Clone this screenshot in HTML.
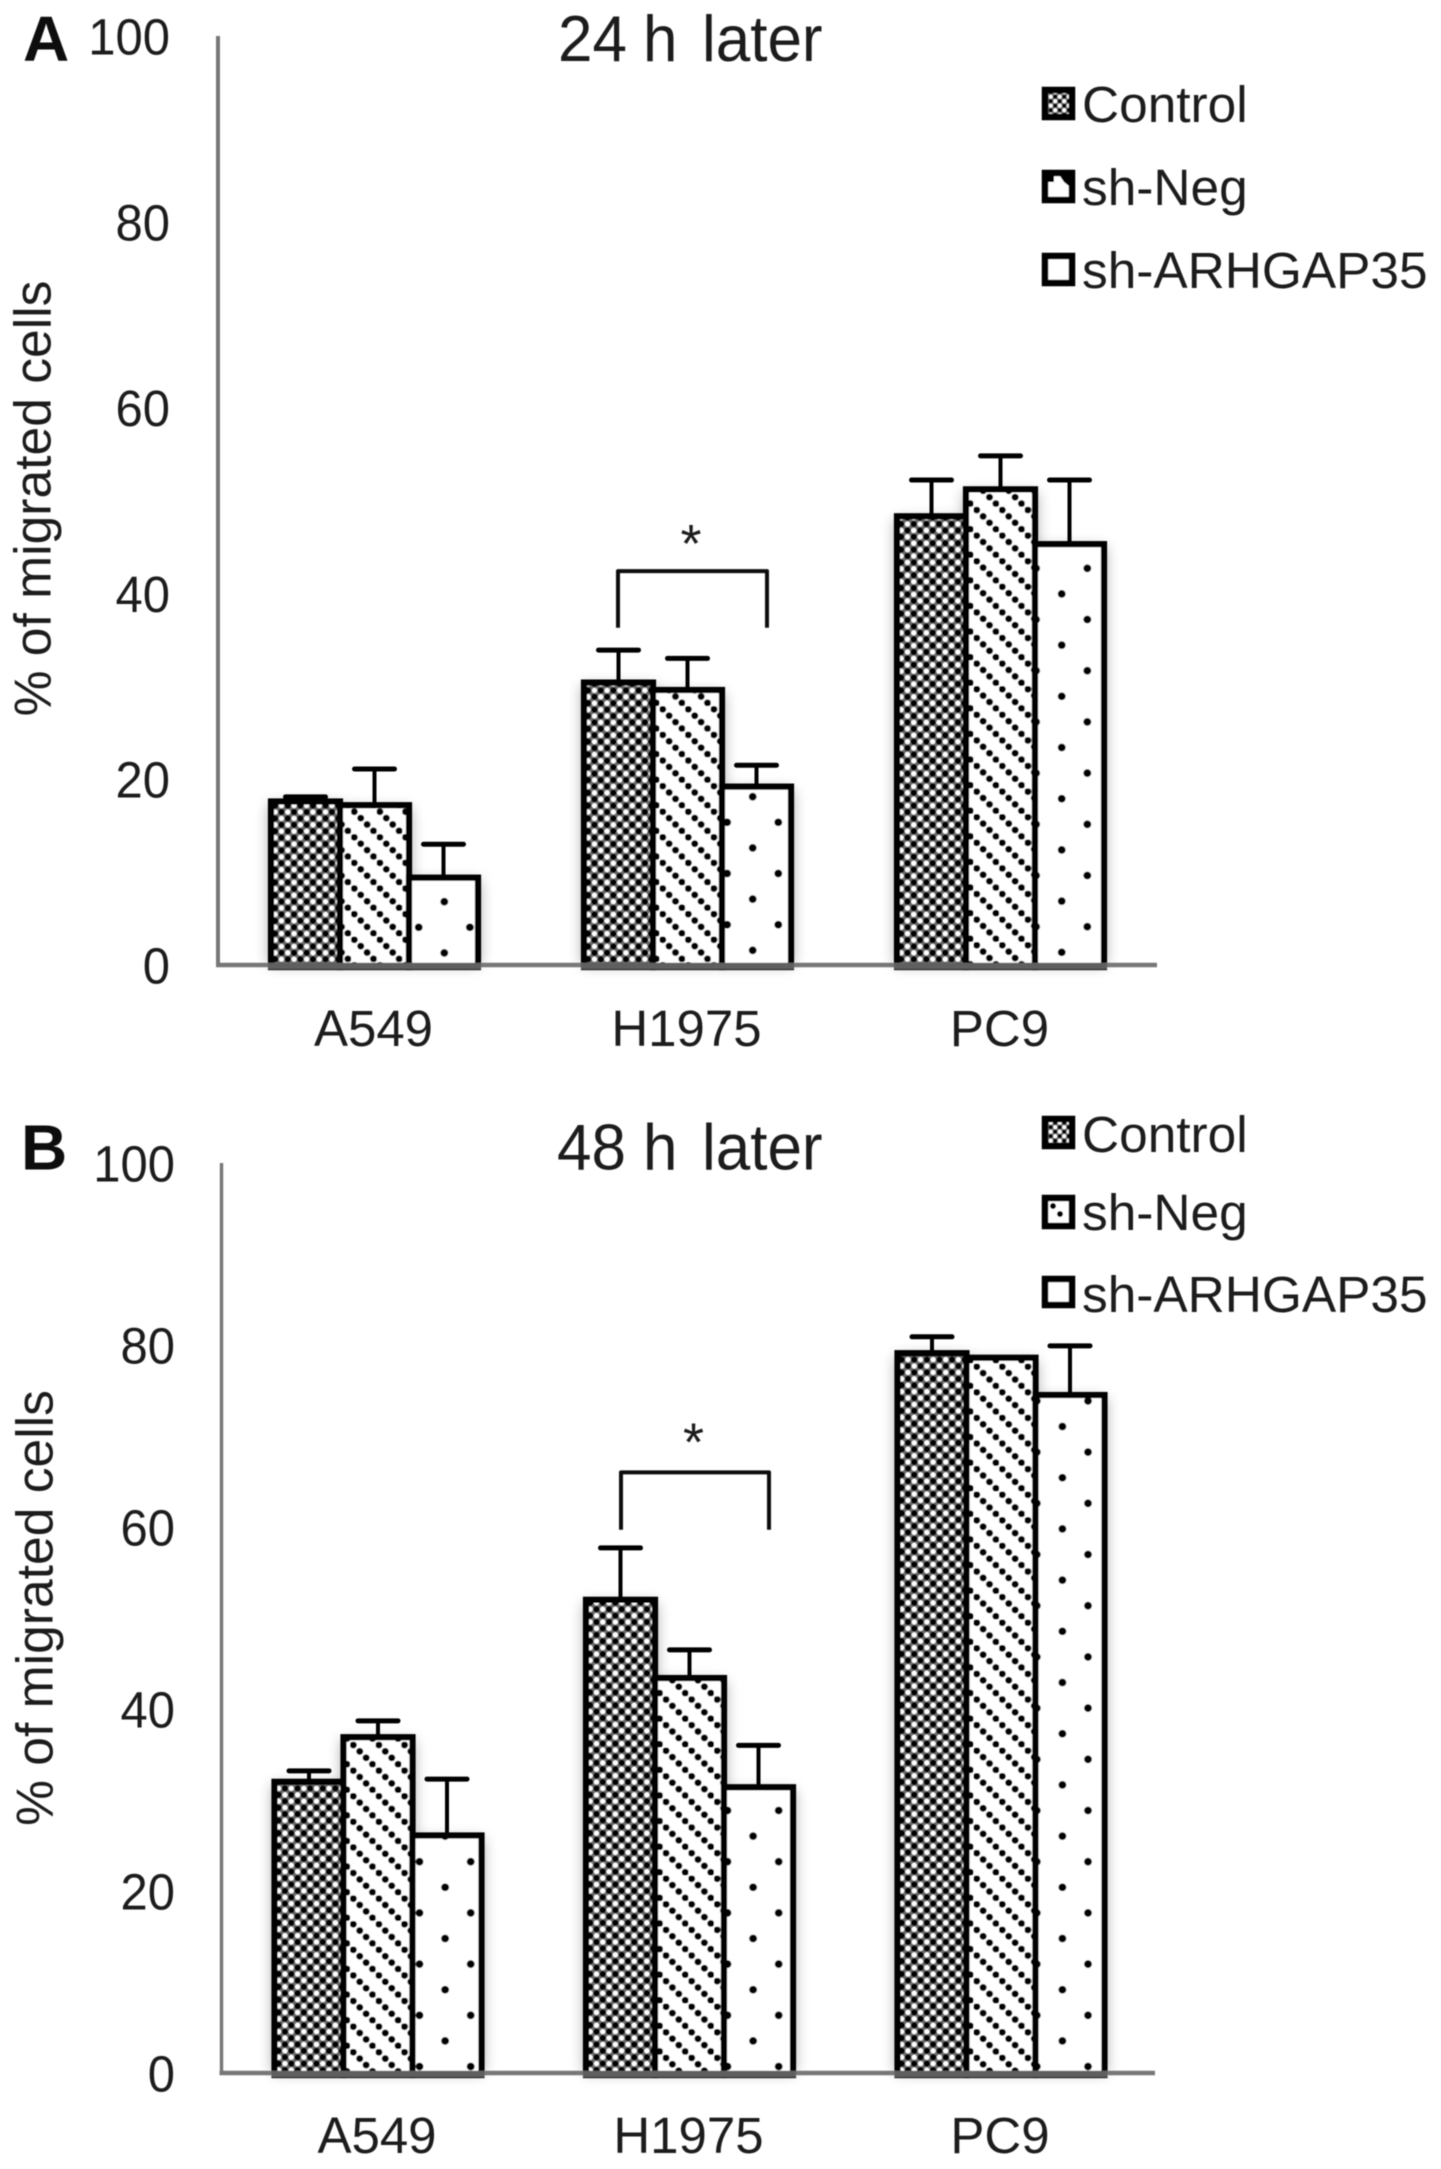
<!DOCTYPE html>
<html lang="en">
<head>
<meta charset="utf-8">
<title>Percentage of migrated cells at 24 h and 48 h</title>
<style>
html,body{margin:0;padding:0;background:#fff;}
body{width:1441px;height:2169px;overflow:hidden;}
svg{display:block;}
text{font-family:"Liberation Sans",Arial,sans-serif;fill:#1e1e1e;}
#art{filter:url(#soft-edge);}
</style>
</head>
<body>
<svg id="figure" xmlns="http://www.w3.org/2000/svg" width="1441" height="2169" viewBox="0 0 1441 2169">
  <defs id="defs">
    <filter id="soft-edge" x="0" y="0" width="100%" height="100%"><feGaussianBlur stdDeviation="0.6"/></filter>
    <filter id="bar-shadow" x="-30%" y="-30%" width="160%" height="160%"><feGaussianBlur stdDeviation="7"/></filter>
    <pattern id="legend-check" patternUnits="userSpaceOnUse" width="9" height="9">
      <rect width="9" height="9" fill="#777"/>
      <circle cx="2.2" cy="2.2" r="1.9" fill="#fff"/><circle cx="6.7" cy="6.7" r="1.9" fill="#fff"/>
      <circle cx="6.7" cy="2.2" r="2.1" fill="#000"/><circle cx="2.2" cy="6.7" r="2.1" fill="#000"/>
    </pattern>
  </defs>
  <rect width="1441" height="2169" fill="#fff"/>
  <g id="art">
    <g id="panel-a">
      <text x="23" y="61" font-size="64" font-weight="700" style="fill:#111">A</text>
      <text transform="translate(0 61) scale(1 1.05)" font-size="62"><tspan x="558">24</tspan><tspan x="643">h</tspan><tspan x="702">later</tspan></text>
      <text transform="translate(50.5 498.5) rotate(-90)" text-anchor="middle" font-size="51.6">% of migrated cells</text>
      <g>
        <g>
          <rect x="1045" y="90" width="27" height="27" fill="url(#legend-check)" stroke="#000" stroke-width="6.5"/>
          <text x="1082" y="122" font-size="51.4">Control</text>
        </g>
        <g>
          <rect x="1045" y="173" width="27" height="27" fill="#fff" stroke="#000" stroke-width="6.5"/>
          <polygon points="1048,176 1054,176 1054,182 1048,182" fill="#000"/>
          <polygon points="1060,176 1069,176 1069,186 1064,182" fill="#000"/>
          <text x="1082" y="205" font-size="51.4">sh-Neg</text>
        </g>
        <g>
          <rect x="1045" y="256" width="27" height="27" fill="#fff" stroke="#000" stroke-width="6.5"/>
          <text x="1082" y="288" font-size="51.4">sh-ARHGAP35</text>
        </g>
      </g>
    </g>
    <g id="panel-b">
      <text x="21" y="1169.5" font-size="64" font-weight="700" style="fill:#111">B</text>
      <text transform="translate(0 1169.5) scale(1 1.05)" font-size="62"><tspan x="557">48</tspan><tspan x="643">h</tspan><tspan x="702">later</tspan></text>
      <text transform="translate(52.5 1608) rotate(-90)" text-anchor="middle" font-size="51.6">% of migrated cells</text>
      <g>
        <g>
          <rect x="1045" y="1119" width="27" height="27" fill="url(#legend-check)" stroke="#000" stroke-width="6.5"/>
          <text x="1082" y="1152" font-size="51.4">Control</text>
        </g>
        <g>
          <rect x="1045" y="1198" width="27" height="28" fill="#fff" stroke="#000" stroke-width="6.5"/>
          <circle cx="1053" cy="1206" r="3" fill="#000"/>
          <circle cx="1060" cy="1214" r="3" fill="#000"/>
          <text x="1082" y="1230" font-size="51.4">sh-Neg</text>
        </g>
        <g>
          <rect x="1045" y="1279" width="27" height="26" fill="#fff" stroke="#000" stroke-width="6.5"/>
          <text x="1082" y="1312" font-size="51.4">sh-ARHGAP35</text>
        </g>
      </g>
    </g>
  </g>
</svg>
<script>
// ---- data ----
const categories = ['A549', 'H1975', 'PC9'];
const seriesNames = ['control', 'sh-neg', 'sh-arhgap35'];
const tickLabels = [0, 20, 40, 60, 80, 100];

const panelAControl = [17.6, 30.4, 48.3];
const panelANeg = [17.2, 29.6, 51.2];
const panelAArh = [9.4, 19.2, 45.3];
const panelAControlErr = [0.5, 3.5, 3.9];
const panelANegErr = [3.9, 3.4, 3.6];
const panelAArhErr = [3.6, 2.3, 6.9];
const panelABracket = [42.4, 36.3];

const panelBControl = [32.0, 52.0, 79.1];
const panelBNeg = [36.9, 43.4, 78.6];
const panelBArh = [26.1, 31.4, 74.5];
const panelBControlErr = [1.2, 5.7, 1.8];
const panelBNegErr = [1.8, 3.1, 0];
const panelBArhErr = [6.2, 4.6, 5.4];
const panelBBracket = [66.0, 59.7];

const NS = 'http://www.w3.org/2000/svg';
const defs = document.getElementById('defs');

function make(parent, tag, attrs) {
  const node = document.createElementNS(NS, tag);
  for (const key in attrs) node.setAttribute(key, attrs[key]);
  parent.appendChild(node);
  return node;
}

function makeFillPattern(id, series, barLeft, hatch, g) {
  if (series === 0) {
    const p = make(defs, 'pattern', {id: id, patternUnits: 'userSpaceOnUse', width: 12.6, height: 12.8,
      patternTransform: 'translate(' + (barLeft + 1) + ' ' + hatch.controlY + ')'});
    make(p, 'rect', {width: 12.6, height: 12.8, fill: '#6a6a6a'});
    make(p, 'circle', {cx: 3.15, cy: 3.2, r: 2.6, fill: '#fff'});
    make(p, 'circle', {cx: 9.45, cy: 9.6, r: 2.6, fill: '#fff'});
    make(p, 'circle', {cx: 9.45, cy: 3.2, r: 3.1, fill: '#000'});
    make(p, 'circle', {cx: 3.15, cy: 9.6, r: 3.1, fill: '#000'});
  } else if (series === 1) {
    const p = make(defs, 'pattern', {id: id, patternUnits: 'userSpaceOnUse', width: 25.6, height: 25.6,
      patternTransform: 'translate(' + (hatch.negAnchor[g][0] - 3.2) + ' ' + (hatch.negAnchor[g][1] - 3.2) + ')'});
    make(p, 'rect', {width: 25.6, height: 25.6, fill: '#fff'});
    for (let k = 0; k < 4; k++) {
      make(p, 'circle', {cx: 3.2 + k * 6.4, cy: 3.2 + k * 6.4, r: 3.5, fill: '#000'});
    }
  } else {
    const p = make(defs, 'pattern', {id: id, patternUnits: 'userSpaceOnUse', width: 51.2, height: 51.2,
      patternTransform: 'translate(' + hatch.arhAnchor[g][0] + ' ' + hatch.arhAnchor[g][1] + ')'});
    make(p, 'rect', {width: 51.2, height: 51.2, fill: '#fff'});
    make(p, 'circle', {cx: 0, cy: 0, r: 3.9, fill: '#000'});
    make(p, 'circle', {cx: 51.2, cy: 0, r: 3.9, fill: '#000'});
    make(p, 'circle', {cx: 0, cy: 51.2, r: 3.9, fill: '#000'});
    make(p, 'circle', {cx: 51.2, cy: 51.2, r: 3.9, fill: '#000'});
    make(p, 'circle', {cx: 25.6, cy: 25.6, r: 3.9, fill: '#000'});
  }
}

function drawPanel(cfg) {
  const root = document.getElementById(cfg.id);
  const yScale = v => cfg.y0 - v * cfg.yUnit;
  const groupCenter = g => cfg.x0 + g * cfg.xStep;
  const barStep = 69;
  const barLeft = (g, s) => groupCenter(g) + (s - 1.5) * barStep;

  const shadows = make(root, 'g', {filter: 'url(#bar-shadow)', opacity: 0.34});
  
  
  const stems = make(root, 'g', {});
  
  
  const bars = make(root, 'g', {});
  
  

  cfg.values.forEach((vals, s) => {
    vals.forEach((v, g) => {
      const left = barLeft(g, s);
      const top = yScale(v);
      const shadow = make(shadows, 'rect', {x: left - 2, y: top + 3, width: barStep + 4, height: yScale(0) - top - 3, fill: '#000'});
      
      

      const capY = yScale(v + cfg.errors[s][g]);
      const cx = left + barStep / 2;
      const stem = make(stems, 'line', {x1: cx, x2: cx, y1: top, y2: capY, stroke: '#000', 'stroke-width': 4});
      
      
      const cap = make(stems, 'line', {x1: cx - 20, x2: cx + 20, y1: capY, y2: capY, stroke: '#000', 'stroke-width': 5, 'stroke-linecap': 'round'});
      
      

      const pid = cfg.id + '-fill-' + g + '-' + s;
      makeFillPattern(pid, s, left, cfg.hatch, g);
      const bar = make(bars, 'rect', {x: left, y: top, width: barStep, height: yScale(0) + 2 - top, fill: 'url(#' + pid + ')', stroke: '#000', 'stroke-width': 6.2});
      
      
    });
  });

  const yAxis = make(root, 'line', {x1: cfg.axisX, x2: cfg.axisX, y1: cfg.axisTop, y2: yScale(0) + 2, stroke: '#777', 'stroke-width': cfg.axisW});
  
  
  const xAxis = make(root, 'line', {x1: cfg.axisX - 2, x2: cfg.axisEnd, y1: yScale(0), y2: yScale(0), stroke: '#777', 'stroke-width': 4.5});
  
  

  categories.forEach((name, g) => {
    const base = make(root, 'line', {x1: barLeft(g, 0) - 3, x2: barLeft(g, 3) + 3, y1: yScale(0) + 1, y2: yScale(0) + 1, stroke: '#5e5e5e', 'stroke-width': 6});
    
    
    const label = make(root, 'text', {x: groupCenter(g) - 1, y: cfg.labelY, 'text-anchor': 'middle', 'font-size': 51});
    label.textContent = name;
    
    
  });

  tickLabels.forEach(t => {
    const tick = make(root, 'text', {transform: 'translate(' + cfg.tickRight + ' ' + (yScale(t) + 18.5) + ') scale(1 1.05)', 'text-anchor': 'end', 'font-size': 49});
    tick.textContent = t;
    
    
  });

  const bx = groupCenter(1);
  const bTop = yScale(cfg.bracket[0]);
  const bLow = yScale(cfg.bracket[1]);
  const bracket = make(root, 'path', {d: 'M' + (bx + cfg.bracketL) + ' ' + bLow + 'V' + bTop + 'H' + (bx + cfg.bracketR) + 'V' + bLow,
    fill: 'none', stroke: '#111', 'stroke-width': 4, 'stroke-linejoin': 'round'});
  
  
  const star = make(root, 'text', {x: bx + cfg.starDx, y: bTop + cfg.starDy, 'text-anchor': 'middle', 'font-size': 54});
  star.textContent = '*';
  
  
}

drawPanel({
  id: 'panel-a', y0: 965, yUnit: 9.29, x0: 374.5, xStep: 313,
  axisX: 218, axisTop: 36, axisEnd: 1157, axisW: 4, labelY: 1046, tickRight: 170,
  hatch: {
    controlY: 796,
    negAnchor: [[354.3, 811.7], [662.7, 709.3], [976.7, 510]],
    arhAnchor: [[444.3, 901.7], [752.7, 796.7], [1087.3, 568.3]]
  },
  values: [panelAControl, panelANeg, panelAArh],
  errors: [panelAControlErr, panelANegErr, panelAArhErr],
  bracket: panelABracket, bracketL: -69.5, bracketR: 79.5, starDx: 3.5, starDy: -9
});

drawPanel({
  id: 'panel-b', y0: 2073, yUnit: 9.1, x0: 378, xStep: 311.5,
  axisX: 221.5, axisTop: 1163, axisEnd: 1155, axisW: 3.4, labelY: 2153, tickRight: 175,
  hatch: {
    controlY: 1350,
    negAnchor: [[353.3, 1745], [666, 1366.7], [976.7, 1366.7]],
    arhAnchor: [[470.7, 1861.7], [778.7, 1861.7], [1088, 1861.7]]
  },
  values: [panelBControl, panelBNeg, panelBArh],
  errors: [panelBControlErr, panelBNegErr, panelBArhErr],
  bracket: panelBBracket, bracketL: -68.5, bracketR: 79.5, starDx: 4, starDy: -12
});
</script>
</body>
</html>
